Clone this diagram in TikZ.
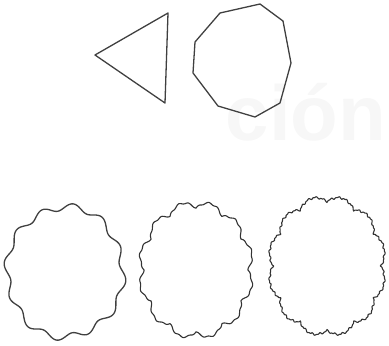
\documentclass[tikz,border=0pt]{standalone}
\usepackage{fontspec}
\setmainfont{Liberation Sans}
\tikzset{
  figline/.style={draw=black!75, line width=1.3pt, line join=round},
  thinline/.style={draw=black!80, line width=1.1pt, line join=round},
  ghost/.style={text=black!3, font=\fontsize{78}{80}\selectfont\bfseries, inner sep=0pt},
}
\begin{document}
\begin{tikzpicture}[x=1pt,y=-1pt]
  \useasboundingbox (0,0) rectangle (389,346);
  % faint show-through from the other side of the page
  \node[ghost, anchor=base] (bleed) at (306,140) {ción};
  % first row: triangle and polygon
  \draw[figline] (95,55) -- (168,13) -- (165,103) -- cycle;
  \draw[figline] (220,13) -- (260,4) -- (283,21) -- (291,63) -- (280,103)
    -- (255,117) -- (218,106) -- (193,73) -- (195,42) -- cycle;
  % second row: the curves get finer
  \draw[figline, smooth] plot[domain=0:360, samples=241]
    ({65 + 58*(1 + 0.05*sin(12*\x) + 0.015*sin(4*\x))*cos(\x)},
     {272 + 65*(1 + 0.05*sin(12*\x) + 0.015*sin(4*\x))*sin(\x)}) -- cycle;
  \draw[thinline] plot[domain=0:360, samples=721]
    ({196 + 57*(0.91 + 0.1*abs(sin(6*\x)) + 0.012*sin(36*\x))*cos(\x)},
     {270 + 68*(0.91 + 0.1*abs(sin(6*\x)) + 0.012*sin(36*\x))*sin(\x)}) -- cycle;
  \draw[thinline] plot[domain=0:360, samples=1081]
    ({327 + 58*(0.92 + 0.08*abs(sin(6*\x)) + 0.025*abs(sin(24*\x)) + 0.006*sin(96*mod(\x,3.75)))*cos(\x)},
     {266 + 69*(0.92 + 0.08*abs(sin(6*\x)) + 0.025*abs(sin(24*\x)) + 0.006*sin(96*mod(\x,3.75)))*sin(\x)}) -- cycle;
\end{tikzpicture}
\end{document}
